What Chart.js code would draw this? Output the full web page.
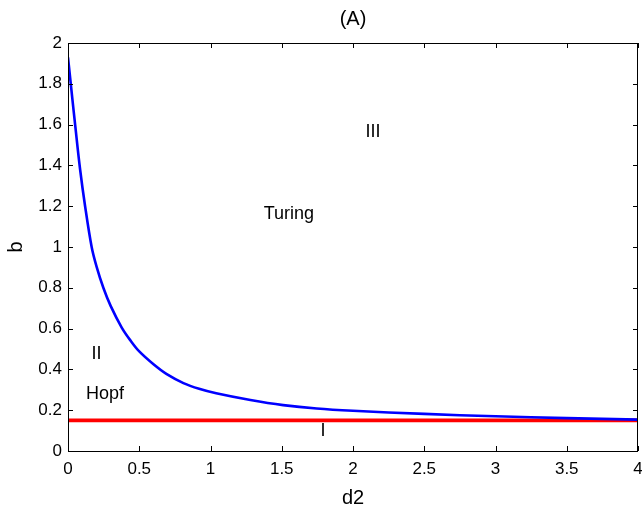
<!DOCTYPE html>
<html>
<head>
<meta charset="utf-8">
<script src="https://cdn.jsdelivr.net/npm/chart.js@4.4.1/dist/chart.umd.min.js"></script>
<style>
html,body{margin:0;padding:0;background:#fff;}
#wrap{width:642px;height:508px;position:relative;}
</style>
</head>
<body>
<div id="wrap"><canvas id="c" width="642" height="508"></canvas></div>
<script>
const curveD2 = [0, 0.03, 0.05, 0.085, 0.12, 0.166, 0.2, 0.248, 0.3, 0.377, 0.44, 0.5, 0.6, 0.69, 0.81, 0.92, 1.04, 1.28, 1.51, 1.745, 2.0, 2.5, 3.0, 3.5, 4.0];
const curveB  = [1.93, 1.73, 1.60, 1.38, 1.20, 1.00, 0.905, 0.80, 0.71, 0.605, 0.54, 0.488, 0.425, 0.378, 0.333, 0.305, 0.283, 0.25, 0.225, 0.208, 0.197, 0.182, 0.170, 0.161, 0.154];
const lineD2 = [0, 4];
const lineB = [0.15, 0.15];
const xTicks = [0, 0.5, 1, 1.5, 2, 2.5, 3, 3.5, 4];
const yTicks = [0, 0.2, 0.4, 0.6, 0.8, 1, 1.2, 1.4, 1.6, 1.8, 2];
const regionLabels = ['III', 'Turing', 'II', 'Hopf', 'I'];
const regionX = [2.14, 1.55, 0.2, 0.26, 1.79];
const regionY = [1.57, 1.17, 0.485, 0.285, 0.103];
const titleText = '(A)';
const xTitle = 'd2';
const yTitle = 'b';

const FONT = '"Liberation Sans", Arial, Helvetica, sans-serif';

function capText(ctx, t, x, yc, size) {
  ctx.font = size + 'px ' + FONT;
  ctx.textBaseline = 'alphabetic';
  ctx.fillText(t, x, yc + 0.36 * size);
}

const decor = {
  id: 'decor',
  afterDraw(chart) {
    const ctx = chart.ctx;
    const a = chart.chartArea;
    const xs = chart.scales.x, ys = chart.scales.y;
    ctx.save();
    ctx.strokeStyle = '#000';
    ctx.lineWidth = 1;
    ctx.strokeRect(Math.round(a.left) + 0.5, Math.round(a.top) + 0.5, Math.round(a.right - a.left) - 1, Math.round(a.bottom - a.top));
    ctx.beginPath();
    xTicks.forEach(v => {
      const px = Math.round(xs.getPixelForValue(v)) + 0.5;
      ctx.moveTo(px, a.bottom); ctx.lineTo(px, a.bottom - 5);
      ctx.moveTo(px, a.top); ctx.lineTo(px, a.top + 5);
    });
    yTicks.forEach(v => {
      const py = Math.round(ys.getPixelForValue(v)) + 0.5;
      ctx.moveTo(a.left, py); ctx.lineTo(a.left + 5, py);
      ctx.moveTo(a.right, py); ctx.lineTo(a.right - 5, py);
    });
    ctx.stroke();
    ctx.fillStyle = '#000';
    ctx.textAlign = 'center';
    regionLabels.forEach((t, i) => {
      capText(ctx, t, xs.getPixelForValue(regionX[i]), ys.getPixelForValue(regionY[i]), 18);
    });
    capText(ctx, titleText, (a.left + a.right) / 2, 18, 20);
    capText(ctx, xTitle, (a.left + a.right) / 2, 497, 20);
    ctx.save();
    ctx.translate(15, 247);
    ctx.rotate(-Math.PI / 2);
    capText(ctx, yTitle, 0, 0, 20);
    ctx.restore();
    ctx.restore();
  }
};

new Chart(document.getElementById('c'), {
  type: 'line',
  data: {
    datasets: [
      {
        label: 'boundary',
        data: curveD2.map((x, i) => ({x: x, y: curveB[i]})),
        borderColor: '#0000ff',
        borderWidth: 2.6,
        pointRadius: 0,
        tension: 0.35,
        fill: false,
        order: 0
      },
      {
        label: 'hopf',
        data: lineD2.map((x, i) => ({x: x, y: lineB[i]})),
        borderColor: '#ff0000',
        borderWidth: 3.6,
        pointRadius: 0,
        fill: false,
        order: 1
      }
    ]
  },
  options: {
    responsive: false,
    animation: false,
    events: [],
    layout: {padding: {top: 43, right: 4, left: 0, bottom: 0}},
    plugins: {legend: {display: false}, title: {display: false}, tooltip: {enabled: false}},
    scales: {
      x: {
        type: 'linear', min: 0, max: 4,
        afterBuildTicks: s => { s.ticks = xTicks.map(v => ({value: v})); },
        afterFit: s => { s.height = 57; s.paddingLeft = 0; s.paddingRight = 0; },
        grid: {display: false, drawTicks: false},
        border: {display: false},
        ticks: {color: '#000', font: {family: FONT, size: 17}, padding: 8, maxRotation: 0, autoSkip: false,
                callback: v => String(v)}
      },
      y: {
        type: 'linear', min: 0, max: 2,
        afterBuildTicks: s => { s.ticks = yTicks.map(v => ({value: v})); },
        afterFit: s => { s.width = 68; s.paddingTop = 0; s.paddingBottom = 0; },
        grid: {display: false, drawTicks: false},
        border: {display: false},
        ticks: {color: '#000', font: {family: FONT, size: 17}, padding: 6, autoSkip: false,
                callback: v => String(Math.round(v * 10) / 10)}
      }
    }
  },
  plugins: [decor]
});
</script>
</body>
</html>
